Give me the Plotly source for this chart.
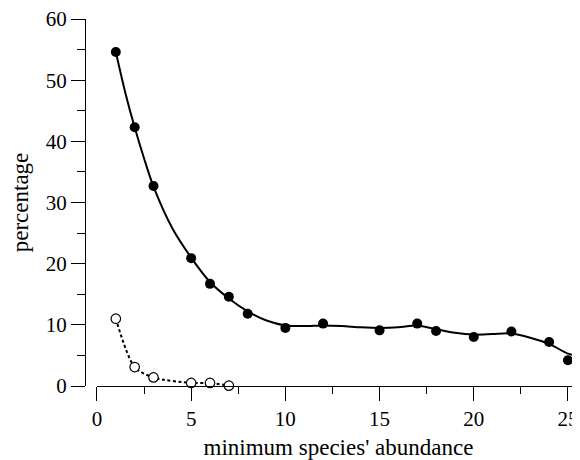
import plotly.graph_objects as go

# filled points: all species
all_x = [1, 2, 3, 5, 6, 7, 8, 10, 12, 15, 17, 18, 20, 22, 24, 25]
all_y = [54.6, 42.3, 32.7, 20.9, 16.7, 14.6, 11.8, 9.5, 10.2, 9.1, 10.2, 9.0, 8.0, 8.9, 7.2, 4.2]

# smooth fitted curve through the filled points
fit_x = [1, 1.5, 2, 2.5, 3, 4, 5, 6, 7, 8, 9, 10, 11, 12, 13, 14, 15, 16, 17, 18, 19, 20, 21, 22, 23, 24, 25, 25.64]
fit_y = [54.6, 48.0, 42.3, 37.2, 32.6, 25.8, 21.0, 17.0, 14.3, 12.2, 10.7, 9.9, 9.8, 9.9, 9.8, 9.6, 9.5, 9.6, 9.9, 9.3, 8.7, 8.4, 8.5, 8.6, 7.9, 6.9, 5.3, 4.9]

# open points
open_x = [1, 2, 3, 5, 6, 7]
open_y = [11.0, 3.1, 1.4, 0.5, 0.5, 0.05]

x_ticks = [0, 5, 10, 15, 20, 25]
y_ticks = [0, 10, 20, 30, 40, 50, 60]

FONT = "Liberation Serif"

fig = go.Figure()
fig.add_trace(go.Scatter(x=fit_x, y=fit_y, mode="lines", line=dict(color="black", width=2, shape="spline", smoothing=0.8), hoverinfo="skip"))
fig.add_trace(go.Scatter(x=open_x, y=open_y, mode="lines", line=dict(color="black", width=2, dash="3px,2.5px", shape="spline", smoothing=0.8), hoverinfo="skip"))
fig.add_trace(go.Scatter(x=all_x, y=all_y, mode="markers", marker=dict(color="black", size=10, line=dict(width=0))))
fig.add_trace(go.Scatter(x=open_x, y=open_y, mode="markers", marker=dict(color="white", size=9.5, line=dict(color="black", width=1.2)), cliponaxis=False))

# the page body has an 8px margin, so the figure is sized/offset to fill the 580x460 window
fig.update_layout(
    width=572, height=452,
    margin=dict(l=77, r=0, t=11, b=74, autoexpand=False),
    paper_bgcolor="white", plot_bgcolor="white",
    showlegend=False,
    font=dict(family=FONT, size=21, color="black"),
    xaxis=dict(
        domain=[0.0242, 1], range=[0, 25.64], automargin=False, ticklabeloverflow="allow",
        tickvals=x_ticks, ticks="outside", ticklen=14, tickwidth=1, tickcolor="black",
        showline=True, linecolor="black", linewidth=1, showgrid=False, zeroline=False,
        minor=dict(tickvals=[2.5, 7.5, 12.5, 17.5, 22.5], ticks="outside", ticklen=7, tickcolor="black", showgrid=False),
        title=dict(text="minimum species' abundance", font=dict(size=23, color="black"), standoff=11),
        tickfont=dict(size=21, color="black"),
    ),
    yaxis=dict(
        anchor="free", position=0, range=[0, 60], automargin=False, ticklabeloverflow="allow",
        tickvals=y_ticks, ticks="outside", ticklen=14, tickwidth=1, tickcolor="black",
        showline=True, linecolor="black", linewidth=1, showgrid=False, zeroline=False,
        minor=dict(tickvals=[5, 15, 25, 35, 45, 55], ticks="outside", ticklen=8, tickcolor="black", showgrid=False),
        title=dict(text="percentage", font=dict(size=23, color="black"), standoff=11),
        tickfont=dict(size=21, color="black"),
    ),
)

fig.write_html("out.html")
